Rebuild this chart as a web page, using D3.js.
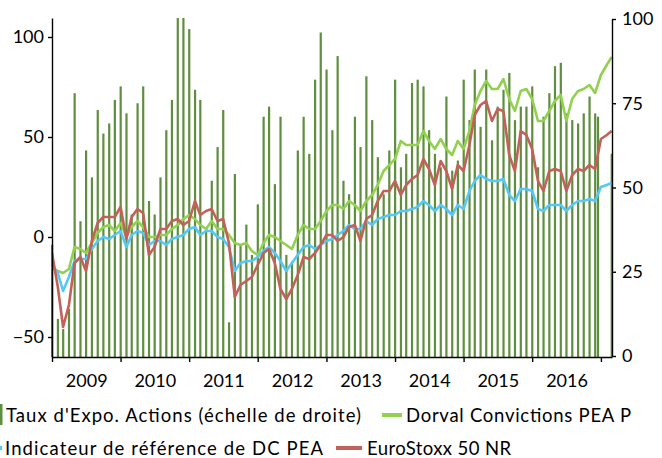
<!DOCTYPE html>
<html>
<head>
<meta charset="utf-8">
<script src="https://cdn.jsdelivr.net/npm/d3@7"></script>
<style>
  body { margin: 0; background: #fff; }
  svg text { font-family: Lato, "Open Sans", sans-serif; fill: #000; }
</style>
</head>
<body>
<svg id="chart" width="662" height="458"></svg>
<script>
// Taux d'expo actions, one bar per month Jan 2009 -> Dec 2016 (right axis)
var expoValues = [33, 11, 8, 14, 78, 40, 61, 53, 73, 66, 69, 76,
                  80, 72, 42, 75, 80, 46, 42, 53, 67, 76, 110, 110,
                  97, 79, 76, 38, 52, 62, 73, 10, 54, 33, 39, 30,
                  45, 71, 74, 51, 71, 30, 28, 61, 71, 60, 82, 96,
                  85, 67, 89, 52, 48, 71, 62, 83, 70, 59, 48, 61,
                  82, 56, 60, 81, 82, 80, 67, 60, 56, 77, 55, 58,
                  82, 70, 85, 68, 85, 64, 74, 79, 84, 70, 74, 74,
                  80, 56, 71, 78, 86, 87, 72, 70, 69, 72, 77, 72];
// two late points that are not on a month start
var expoExtraDates = ["2016-12-16", "2017-02-27"];
var expoExtraValues = [71, 60];

// performance lines, one point per month Jan 2009 -> Feb 2017, then the last day
var dorval = [-15, -17, -18, -16, -5, -6, -8, -3, 2, 5, 6, 3,
              7, 0, 5, 8, 5, 0, 0, 1, 1, 4, 6, 9,
              11, 9, 6, 4, 8, 4, 4, 1, -3, -4, -3, -7,
              -9, -3, 1, 0, -2, -4, -6, 1, 6, 4, 4, 8,
              13, 16, 16, 14, 18, 16, 13, 18, 21, 26, 33, 36,
              39, 48, 46, 46, 46, 53, 48, 44, 49, 44, 41, 48,
              44, 53, 66, 73, 78, 74, 74, 79, 69, 63, 73, 74,
              69, 58, 58, 63, 68, 71, 58, 69, 73, 74, 76, 72,
              81, 86, 90];
var indicateur = [-15, -18, -27, -20, -12, -11, -11, -6, -2, 0, -1, 1,
                  3, -5, 1, 3, 2, -4, -2, -2, -4, -1, 0, 1,
                  4, 5, 1, 3, 3, 0, -1, -5, -17, -13, -12, -12,
                  -10, -7, -5, -8, -12, -17, -13, -9, -5, -4, -6, -4,
                  -2, -1, 1, 3, 6, 4, 4, 8, 6, 9, 10, 11,
                  11, 13, 13, 14, 15, 18, 16, 13, 16, 14, 11, 16,
                  14, 23, 28, 31, 29, 28, 28, 29, 21, 18, 24, 24,
                  23, 14, 13, 16, 16, 16, 13, 16, 18, 18, 19, 18,
                  25, 26, 27];
var eurostoxx = [-8, -25, -45, -34, -13, -10, -17, -2, 7, 10, 10, 10,
                 15, -1, 10, 14, 12, -9, -5, 4, 4, 8, 9, 6,
                 8, 18, 11, 13, 14, 8, 9, -3, -30, -24, -22, -20,
                 -14, -8, -6, -13, -26, -31, -26, -19, -10, -11, -8, -4,
                 1, 1, -2, 0, 5, 6, -2, 9, 11, 18, 23, 23,
                 28, 21, 26, 29, 31, 39, 34, 26, 38, 33, 24, 36,
                 33, 46, 61, 66, 68, 58, 64, 63, 41, 33, 53, 51,
                 44, 28, 23, 33, 34, 33, 23, 31, 34, 33, 36, 34,
                 49, 51, 53];
var lineEndDate = "2017-02-27";

var years = [2009, 2010, 2011, 2012, 2013, 2014, 2015, 2016];
var leftTicks = [-50, 0, 50, 100];
var rightTicks = [0, 25, 50, 75, 100];

var labelExpo = "Taux d'Expo. Actions (échelle de droite)";
var labelDorval = "Dorval Convictions PEA P";
var labelIndic = "Indicateur de référence de DC PEA";
var labelStoxx = "EuroStoxx 50 NR";

var COLOR_BAR = "#5f8e3f",
    COLOR_DORVAL = "#92d050",
    COLOR_INDIC = "#55c8f8",
    COLOR_STOXX = "#c4605a";

var svg = d3.select("#chart");
var parse = d3.timeParse("%Y-%m-%d");
var start = new Date(2009, 0, 1);

var plot = { left: 52, right: 612, top: 18, bottom: 357 };

var x = d3.scaleTime()
  .domain([start, new Date(2017, 2, 1)])
  .range([plot.left, plot.right]);
var yLeft = d3.scaleLinear().domain([-60, 109.5]).range([plot.bottom, plot.top]);
var yRight = d3.scaleLinear().domain([0, 100]).range([plot.bottom - 1, plot.top + 1]);

// bar data: monthly + the two extra points
var bars = expoValues.map(function (v, i) {
  return { date: d3.timeMonth.offset(start, i), value: v };
});
expoExtraDates.forEach(function (d, i) {
  bars.push({ date: parse(d), value: expoExtraValues[i] });
});

var lineDates = d3.range(dorval.length - 1).map(function (i) {
  return d3.timeMonth.offset(start, i);
});
lineDates.push(parse(lineEndDate));

svg.append("clipPath").attr("id", "plot-clip")
  .append("rect")
  .attr("x", plot.left - 2).attr("y", plot.top)
  .attr("width", plot.right - plot.left + 4)
  .attr("height", plot.bottom - plot.top);

var g = svg.append("g").attr("clip-path", "url(#plot-clip)");

g.selectAll("rect.bar")
  .data(bars)
  .enter().append("rect")
  .attr("class", "bar")
  .attr("x", function (d) { return x(d.date) - 1; })
  .attr("width", 2.2)
  .attr("y", function (d) { return yRight(d.value); })
  .attr("height", function (d) { return plot.bottom - yRight(d.value); })
  .attr("fill", COLOR_BAR);

var line = d3.line()
  .x(function (d, i) { return x(lineDates[i]); })
  .y(function (d) { return yLeft(d); });

[[dorval, COLOR_DORVAL], [indicateur, COLOR_INDIC], [eurostoxx, COLOR_STOXX]]
  .forEach(function (s) {
    g.append("path")
      .datum(s[0])
      .attr("fill", "none")
      .attr("stroke", s[1])
      .attr("stroke-width", 2.6)
      .attr("stroke-linejoin", "round")
      .attr("d", line);
  });

// axes
function styleAxis(sel) {
  sel.selectAll("path.domain").attr("stroke", "#000").attr("stroke-width", 1.4);
  sel.selectAll(".tick line").attr("stroke", "#000").attr("stroke-width", 1.4);
  sel.selectAll("text").attr("font-size", 18).attr("font-family", "Lato, sans-serif").attr("fill", "#000");
}

svg.append("g")
  .attr("transform", "translate(" + plot.left + ",0)")
  .call(d3.axisLeft(yLeft).tickValues(leftTicks).tickSize(4).tickSizeOuter(0).tickPadding(4))
  .call(styleAxis);

svg.append("g")
  .attr("transform", "translate(" + plot.right + ",0)")
  .call(d3.axisRight(yRight).tickValues(rightTicks).tickSize(4).tickSizeOuter(0).tickPadding(6))
  .call(styleAxis);

var yearStarts = years.concat([2017]).map(function (y) { return new Date(y, 0, 1); });
svg.append("g")
  .attr("transform", "translate(0," + plot.bottom + ")")
  .call(d3.axisBottom(x).tickValues(yearStarts).tickSize(5).tickSizeOuter(0).tickFormat(""))
  .call(styleAxis);

// year labels sit in the middle of each year
svg.append("g")
  .attr("transform", "translate(0," + plot.bottom + ")")
  .call(d3.axisBottom(x)
    .tickValues(years.map(function (y) { return new Date(y, 6, 2); }))
    .tickSize(0).tickPadding(17)
    .tickFormat(function (d) { return d.getFullYear(); }))
  .call(styleAxis)
  .select("path.domain").remove();

// legend (text is stretched a bit, like the original's spaced-out font)
var legend = svg.append("g").attr("font-size", 18.5);

function legendText(px, py, label, len) {
  legend.append("text")
    .attr("x", px).attr("y", py)
    .attr("textLength", len)
    .attr("lengthAdjust", "spacing")
    .text(label);
}

legend.append("rect")
  .attr("x", 0).attr("y", 404).attr("width", 2.5).attr("height", 21)
  .attr("fill", COLOR_BAR);
legendText(6, 422, labelExpo, 355);

legend.append("line")
  .attr("x1", 382).attr("x2", 402).attr("y1", 415).attr("y2", 415)
  .attr("stroke", COLOR_DORVAL).attr("stroke-width", 4);
legendText(406, 422, labelDorval, 225);

legend.append("line")
  .attr("x1", -18).attr("x2", 2).attr("y1", 448).attr("y2", 448)
  .attr("stroke", COLOR_INDIC).attr("stroke-width", 4);
legendText(5, 455, labelIndic, 318);

legend.append("line")
  .attr("x1", 336).attr("x2", 362).attr("y1", 448).attr("y2", 448)
  .attr("stroke", COLOR_STOXX).attr("stroke-width", 4);
legendText(367, 455, labelStoxx, 144);
</script>
</body>
</html>
